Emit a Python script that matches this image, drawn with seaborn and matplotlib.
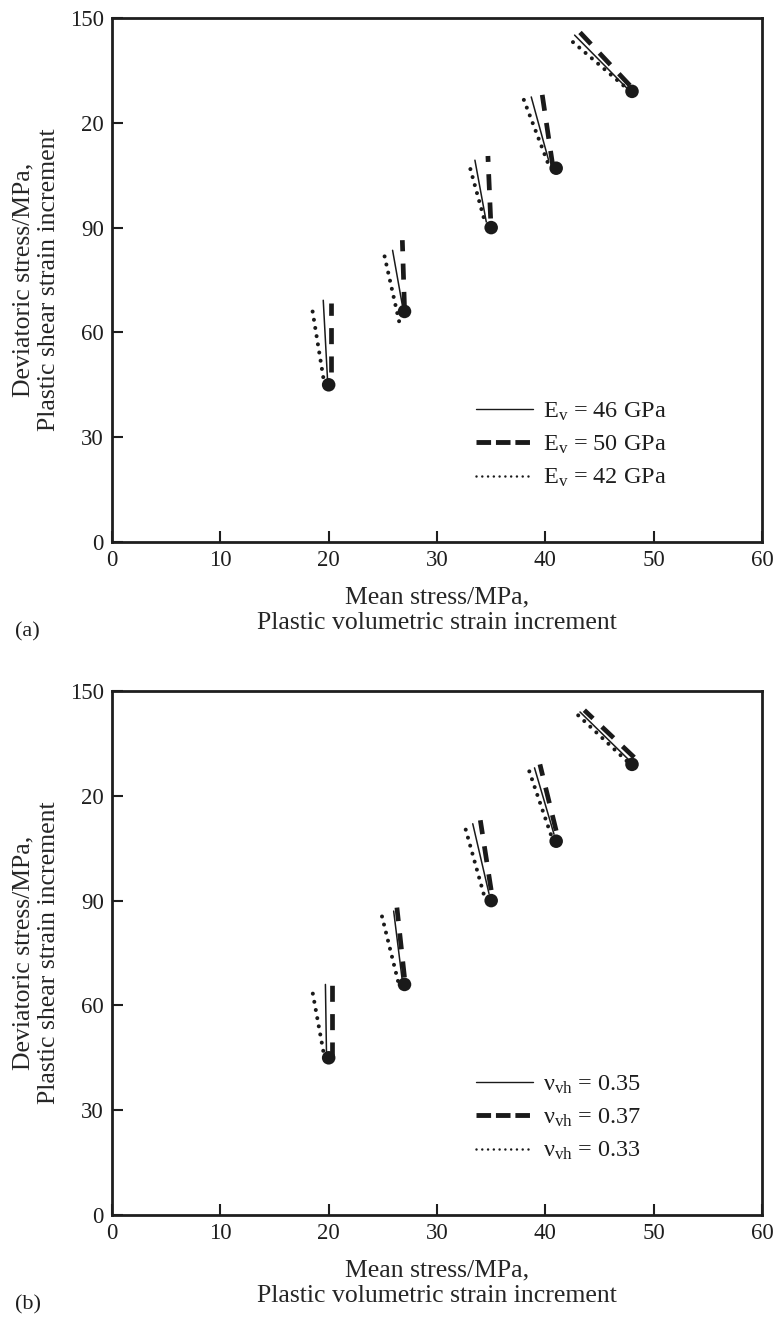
import matplotlib
matplotlib.use("Agg")
import matplotlib.pyplot as plt
from matplotlib.lines import Line2D
import pandas as pd
import seaborn as sns

# Stress points on the loading path (mean stress p, deviatoric stress q), MPa
mean_stress = [20.0, 27.0, 35.0, 41.0, 48.0]
dev_stress = [45.0, 66.0, 90.0, 107.0, 129.0]

x_ticks = [0, 10, 20, 30, 40, 50, 60]
y_ticks = [0, 30, 60, 90, 120, 150]
y_tick_labels = ["0", "30", "60", "90", "20", "150"]

# Panel (a): plastic strain increment vectors for three vertical moduli
# (start x, start y, end x, end y for each stress point)
a_labels = ["E$_\\mathrm{v}$ = 46 GPa", "E$_\\mathrm{v}$ = 50 GPa", "E$_\\mathrm{v}$ = 42 GPa"]
a46_x0 = [19.9, 26.8, 34.55, 40.3, 47.6]
a46_y0 = [46.2, 67.8, 91.6, 109.3, 129.7]
a46_x1 = [19.5, 25.9, 33.5, 38.7, 42.7]
a46_y1 = [69.2, 83.5, 109.3, 127.4, 145.1]

a50_x0 = [20.25, 27.0, 34.95, 40.7, 47.8]
a50_y0 = [48.7, 67.0, 92.6, 107.4, 130.7]
a50_x1 = [20.25, 26.8, 34.7, 39.7, 43.1]
a50_y1 = [68.3, 86.4, 110.5, 128.3, 146.2]

a42_x0 = [19.5, 26.5, 34.3, 40.2, 47.2]
a42_y0 = [47.2, 63.2, 93.0, 108.8, 130.7]
a42_x1 = [18.5, 25.0, 32.9, 38.0, 42.1]
a42_y1 = [66.3, 84.0, 108.8, 126.7, 144.3]

# Panel (b): the same for three Poisson's ratios
b_labels = ["\u03bd$_\\mathrm{vh}$ = 0.35", "\u03bd$_\\mathrm{vh}$ = 0.37", "\u03bd$_\\mathrm{vh}$ = 0.33"]
b35_x0 = [19.8, 26.8, 34.8, 40.8, 47.8]
b35_y0 = [46.0, 67.0, 92.0, 109.0, 130.0]
b35_x1 = [19.7, 26.0, 33.3, 39.0, 43.2]
b35_y1 = [66.0, 87.0, 112.0, 128.0, 144.0]

b37_x0 = [20.3, 27.0, 35.0, 41.0, 48.2]
b37_y0 = [45.0, 68.0, 93.0, 110.0, 131.0]
b37_x1 = [20.3, 26.3, 34.0, 39.5, 43.6]
b37_y1 = [66.0, 88.0, 113.0, 129.0, 144.5]

b33_x0 = [19.5, 26.4, 34.3, 40.5, 47.5]
b33_y0 = [47.0, 67.0, 92.0, 109.0, 130.0]
b33_x1 = [18.5, 24.8, 32.5, 38.3, 42.6]
b33_y1 = [64.0, 87.0, 112.0, 129.0, 144.3]


def segments(x0, y0, x1, y1):
    rows = []
    for i, (xa, ya, xb, yb) in enumerate(zip(x0, y0, x1, y1)):
        rows.append({"point": i, "x": xa, "y": ya})
        rows.append({"point": i, "x": xb, "y": yb})
    return pd.DataFrame(rows)


sns.set_style("ticks")
plt.rcParams["font.family"] = ["Liberation Serif", "DejaVu Serif"]
plt.rcParams["mathtext.fontset"] = "custom"
plt.rcParams["mathtext.rm"] = "Liberation Serif"
plt.rcParams["mathtext.it"] = "Liberation Serif:italic"
plt.rcParams["text.color"] = "#1e1e1e"

ink = "#1a1a1a"
solid_kw = dict(color=ink, linewidth=1.1, linestyle="-")
dash_kw = dict(color=ink, linewidth=3.4, linestyle=(0, (3.4, 2.6)),
               dash_capstyle="butt")
dot_kw = dict(color=ink, linewidth=2.9, linestyle=(0, (0.01, 2.05)),
              dash_capstyle="round")

fig = plt.figure(figsize=(7.75, 13.2), dpi=100)
W, H = 775.0, 1320.0
ax_a = fig.add_axes([112 / W, 1 - 542 / H, 650 / W, 524 / H])
ax_b = fig.add_axes([112 / W, 1 - 1215 / H, 650 / W, 524 / H])

panels = [
    (ax_a, [(a46_x0, a46_y0, a46_x1, a46_y1),
            (a50_x0, a50_y0, a50_x1, a50_y1),
            (a42_x0, a42_y0, a42_x1, a42_y1)], a_labels, "(a)", 632),
    (ax_b, [(b35_x0, b35_y0, b35_x1, b35_y1),
            (b37_x0, b37_y0, b37_x1, b37_y1),
            (b33_x0, b33_y0, b33_x1, b33_y1)], b_labels, "(b)", 1305),
]

for ax, series, labels, tag, tag_y in panels:
    for seg, kw in zip(series, [solid_kw, dash_kw, dot_kw]):
        sns.lineplot(data=segments(*seg), x="x", y="y", units="point",
                     estimator=None, sort=False, legend=False, ax=ax, **kw)
    sns.scatterplot(x=mean_stress, y=dev_stress, s=95, color=ink,
                    edgecolor="none", zorder=5, ax=ax)

    ax.set_xlim(0, 60)
    ax.set_ylim(0, 150)
    ax.set_xticks(x_ticks)
    ax.set_xticklabels([str(t) for t in x_ticks])
    ax.set_yticks(y_ticks)
    ax.set_yticklabels(y_tick_labels)
    ax.tick_params(direction="in", length=8, width=1.5, labelsize=16.5,
                   colors="#1e1e1e", pad=6)
    for sp in ax.spines.values():
        sp.set_linewidth(2.0)
        sp.set_color("#1e1e1e")

    ax.set_xlabel("Mean stress/MPa,\nPlastic volumetric strain increment",
                  fontsize=18.5, linespacing=1.2)
    ax.xaxis.set_label_coords(0.5, -0.085)
    ax.set_ylabel("Deviatoric stress/MPa,\nPlastic shear strain increment",
                  fontsize=18.5, linespacing=1.2)
    ax.yaxis.set_label_coords(-0.08, 0.5)

    handles = [
        Line2D([], [], color=ink, linewidth=1.0),
        Line2D([], [], color=ink, linewidth=3.5, linestyle=(0, (3.0, 1.0))),
        Line2D([], [], color=ink, linewidth=1.8,
               linestyle=(0, (0.01, 2.3)), dash_capstyle="round"),
    ]
    ax.legend(handles, labels, loc="upper left", bbox_to_anchor=(0.56, 0.27),
              frameon=False, borderpad=0, borderaxespad=0, handlelength=2.35,
              handletextpad=0.4, labelspacing=0.45, fontsize=17.5)

    fig.text(15 / W, 1 - tag_y / H, tag, fontsize=16, ha="left", va="center")

fig.savefig("out.png", dpi=100)
